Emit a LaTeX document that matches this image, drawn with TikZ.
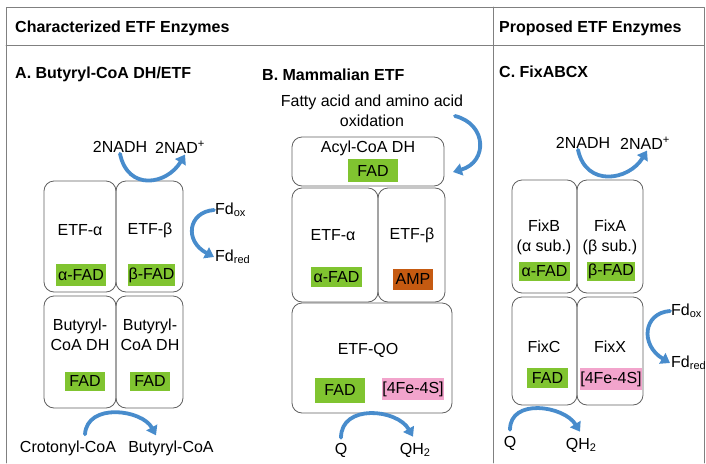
\documentclass[tikz,border=0pt]{standalone}
\usepackage{fontspec}
\setmainfont{Liberation Sans}
\usetikzlibrary{arrows.meta,calc}
\definecolor{flowblue}{RGB}{72,140,204}
\definecolor{fadgreen}{RGB}{128,196,48}
\definecolor{ampbrown}{RGB}{197,90,17}
\definecolor{fespink}{RGB}{242,164,204}
\definecolor{subgray}{RGB}{96,96,96}
\definecolor{framegray}{RGB}{128,128,128}
\newcommand{\lowtxt}[1]{\raisebox{-0.25ex}{\fontsize{11}{12}\selectfont #1}}
\tikzset{
  txt/.style={font=\fontsize{16}{20}\selectfont, inner sep=1pt, align=center},
  head/.style={font=\fontsize{16}{20}\selectfont\bfseries, inner sep=0pt, anchor=west},
  subunit/.style={draw=subgray, line width=0.8pt, rounded corners=10pt, inner sep=0pt},
  cof/.style={txt, inner sep=0pt, minimum height=22pt},
  fad/.style={cof, fill=fadgreen},
  flow/.style={draw=flowblue, line width=3.8pt, -{Triangle[length=9pt,width=12pt]}}
}
\begin{document}
\begin{tikzpicture}[line cap=round,line join=round,x=1pt,y=-1pt]
	\useasboundingbox (0,0) rectangle (706,463);
	% frame and headings
	\draw[framegray, line width=0.8pt] (6,463) -- (6,7) -- (704,7) -- (704,463);
	\draw[framegray, line width=0.8pt] (6,45) -- (704,45);
	\draw[framegray, line width=0.8pt] (493,7) -- (493,463);
	\node[head] (charhd) at (15,28) {Characterized ETF Enzymes};
	\node[head] (prophd) at (499,28) {Proposed ETF Enzymes};

	% A. Butyryl-CoA DH/ETF
	\node[head] (titleA) at (15,74) {A. Butyryl-CoA DH/ETF};
	\node[subunit, minimum width=72pt, minimum height=111pt] (etfaA) at (80,236.5) {};
	\node[subunit, minimum width=67pt, minimum height=111pt] (etfbA) at (149.5,236.5) {};
	\node[subunit, minimum width=72pt, minimum height=112pt] (bcdA) at (80,352) {};
	\node[subunit, minimum width=67pt, minimum height=112pt] (bcdbA) at (149.5,352) {};
	\node[txt] (etfaAl) at (80,230) {ETF-α};
	\node[txt] (etfbAl) at (150,230) {ETF-β};
	\node[fad, minimum width=50pt] (afadA) at (81,275) {α-FAD};
	\node[fad, minimum width=47pt] (bfadA) at (151.5,275) {β-FAD};
	\node[txt] (bcdAl) at (80,335) {Butyryl-\\CoA DH};
	\node[txt] (bcdbAl) at (150,335) {Butyryl-\\CoA DH};
	\node[fad, minimum width=40pt, minimum height=19pt] (fadA) at (85,381) {FAD};
	\node[fad, minimum width=40pt, minimum height=19pt] (fadbA) at (150,381) {FAD};
	\node[txt] (nadhA) at (120,147) {2NADH};
	\node[txt] (nadpA) at (180,147) {2NAD\textsuperscript{+}};
	\node[txt, anchor=west] (fdoxA) at (214,210) {Fd\lowtxt{ox}};
	\node[txt, anchor=west] (fdredA) at (214,257) {Fd\lowtxt{red}};
	\node[txt] (crotA) at (68,448) {Crotonyl-CoA};
	\node[txt] (butA) at (171,448) {Butyryl-CoA};
	\draw[flow] (nadhA.south) .. controls +(8,38) and +(-18,30) .. ($(nadpA.south)+(5,0)$);
	\draw[flow] (fdoxA.west) .. controls +(-26,2) and +(-30,-16) .. (fdredA.west);
	\draw[flow] ($(crotA.north)+(17,-5)$) .. controls +(2,-32) and +(-14,-26) .. ($(butA.north)+(-15,-4)$);

	% B. Mammalian ETF
	\node[head] (titleB) at (262,75) {B. Mammalian ETF};
	\node[txt] (fattyB) at (372,111) {Fatty acid and amino acid\\oxidation};
	\node[subunit, minimum width=152pt, minimum height=49pt] (acylB) at (368,161.5) {};
	\node[subunit, minimum width=86pt, minimum height=114pt] (etfaB) at (335,245) {};
	\node[subunit, minimum width=67pt, minimum height=114pt] (etfbB) at (411.5,245) {};
	\node[subunit, minimum width=160pt, minimum height=110pt] (qoB) at (372,358) {};
	\node[txt] (acylBl) at (368,148) {Acyl-CoA DH};
	\node[fad, minimum width=50pt, minimum height=23pt] (fadB) at (373,170.5) {FAD};
	\node[txt] (etfaBl) at (333,235) {ETF-α};
	\node[txt] (etfbBl) at (412,235) {ETF-β};
	\node[fad, minimum width=51pt, minimum height=20pt] (afadB) at (336.5,277) {α-FAD};
	\node[cof, fill=ampbrown, minimum width=40pt, minimum height=21pt] (ampB) at (413,279) {AMP};
	\node[txt] (qoBl) at (368,350) {ETF-QO};
	\node[fad, minimum width=50pt, minimum height=25pt] (fadqB) at (340,390) {FAD};
	\node[cof, fill=fespink, minimum width=60pt, minimum height=22pt] (fesB) at (413,389) {[4Fe-4S]};
	\node[txt] (qB) at (341,450) {Q};
	\node[txt] (qhB) at (415,450) {QH\lowtxt{2}};
	\coordinate (oxB) at (455,116);
	\coordinate (inB) at (453,172);
	\draw[flow] (oxB) .. controls (487,124) and (488,162) .. (inB);
	\draw[flow] ($(qB.north)+(0,-4)$) .. controls +(0,-34) and +(-16,-28) .. ($(qhB.north)+(-2,-5)$);

	% C. FixABCX
	\node[head] (titleC) at (499,72) {C. FixABCX};
	\node[subunit, minimum width=65pt, minimum height=113pt] (fixbC) at (544.5,236.5) {};
	\node[subunit, minimum width=66pt, minimum height=113pt] (fixaC) at (610,236.5) {};
	\node[subunit, minimum width=65pt, minimum height=108pt] (fixcC) at (544.5,351) {};
	\node[subunit, minimum width=66pt, minimum height=108pt] (fixxC) at (610,351) {};
	\node[txt] (fixbCl) at (544,237) {FixB\\(α sub.)};
	\node[txt] (fixaCl) at (610,237) {FixA\\(β sub.)};
	\node[fad, minimum width=51pt, minimum height=19pt] (afadC) at (544.5,271) {α-FAD};
	\node[fad, minimum width=48pt, minimum height=19pt] (bfadC) at (611,271) {β-FAD};
	\node[txt] (fixcCl) at (544,347) {FixC};
	\node[txt] (fixxCl) at (610,347) {FixX};
	\node[fad, minimum width=41pt, minimum height=20pt] (fadC) at (547.5,378) {FAD};
	\node[cof, fill=fespink, minimum width=61pt, minimum height=22pt] (fesC) at (611,379) {[4Fe-4S]};
	\node[txt] (nadhC) at (583,143) {2NADH};
	\node[txt] (nadpC) at (645,143) {2NAD\textsuperscript{+}};
	\node[txt, anchor=west] (fdoxC) at (670,311) {Fd\lowtxt{ox}};
	\node[txt, anchor=west] (fdredC) at (670,363) {Fd\lowtxt{red}};
	\node[txt] (qC) at (510,443) {Q};
	\node[txt] (qhC) at (581,445) {QH\lowtxt{2}};
	\draw[flow] ($(nadhC.south)+(-5,0)$) .. controls +(8,38) and +(-18,30) .. ($(nadpC.south)+(2,0)$);
	\draw[flow] (fdoxC.west) .. controls +(-27,2) and +(-30,-18) .. (fdredC.west);
	\draw[flow] ($(qC.north)+(0,-5)$) .. controls +(0,-32) and +(-16,-26) .. ($(qhC.north)+(-1,-5)$);
\end{tikzpicture}
\end{document}
